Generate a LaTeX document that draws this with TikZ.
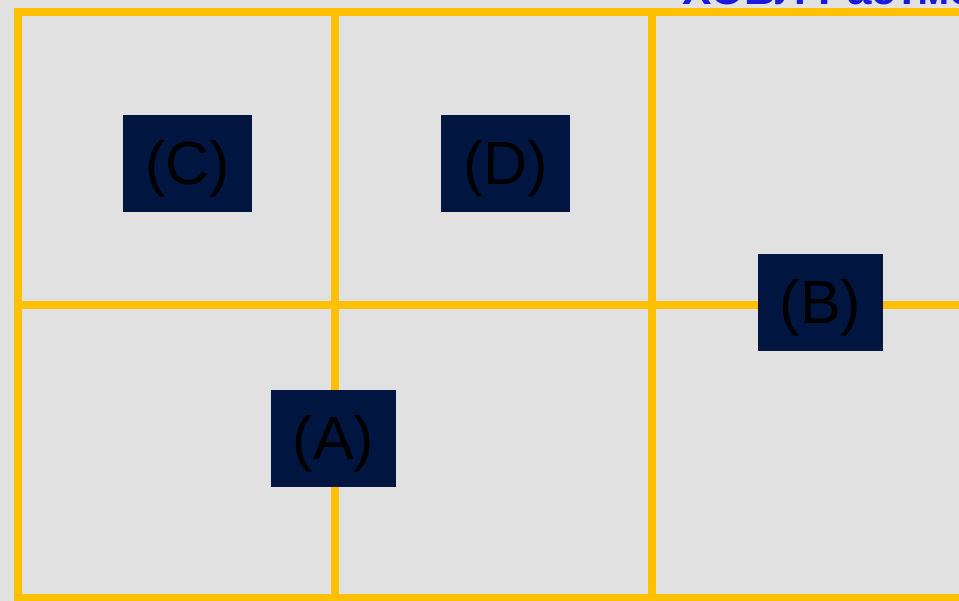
\documentclass[tikz,border=0pt]{standalone}
\usepackage{fontspec}
\setmainfont{Liberation Sans}
\definecolor{bggray}{HTML}{E1E1E1}
\definecolor{gridyellow}{HTML}{FFC000}
\definecolor{boxnavy}{HTML}{001640}
\definecolor{titleblue}{HTML}{1A1ADC}
\newcommand{\boxlabel}[1]{\raisebox{-5pt}[\height][\depth]{#1}}
\begin{document}
\begin{tikzpicture}[x=1pt,y=-1pt,
  gridline/.style={draw=gridyellow,line width=8pt},
  classbox/.style={fill=boxnavy,text=black,inner sep=0pt,minimum height=97pt,font=\fontsize{61}{64}\selectfont},
  titletext/.style={text=titleblue,inner sep=0pt,font=\bfseries\fontsize{44}{48}\selectfont}]
\clip (0,0) rectangle (959,601);
\fill[bggray] (0,0) rectangle (959,601);
% grid
\draw[gridline] (13.5,12) -- (980,12);
\draw[gridline] (13.5,305) -- (980,305);
\draw[gridline] (13.5,598) -- (980,598);
\draw[gridline] (17.5,8) -- (17.5,605);
\draw[gridline] (335,8) -- (335,605);
\draw[gridline] (652,8) -- (652,605);
% title (cut off at top, as in the reference)
\node[titletext,anchor=base west] (title) at (682,5) {ХОБЛ Растмо};
% boxes
\node[classbox,minimum width=129pt] (C) at (187.5,163.5) {\boxlabel{(C)}};
\node[classbox,minimum width=129pt] (D) at (505.5,163.5) {\boxlabel{(D)}};
\node[classbox,minimum width=125pt] (B) at (820.5,302.5) {\boxlabel{(B)}};
\node[classbox,minimum width=125pt] (A) at (333.5,438.5) {\boxlabel{(A)}};
\end{tikzpicture}
\end{document}
